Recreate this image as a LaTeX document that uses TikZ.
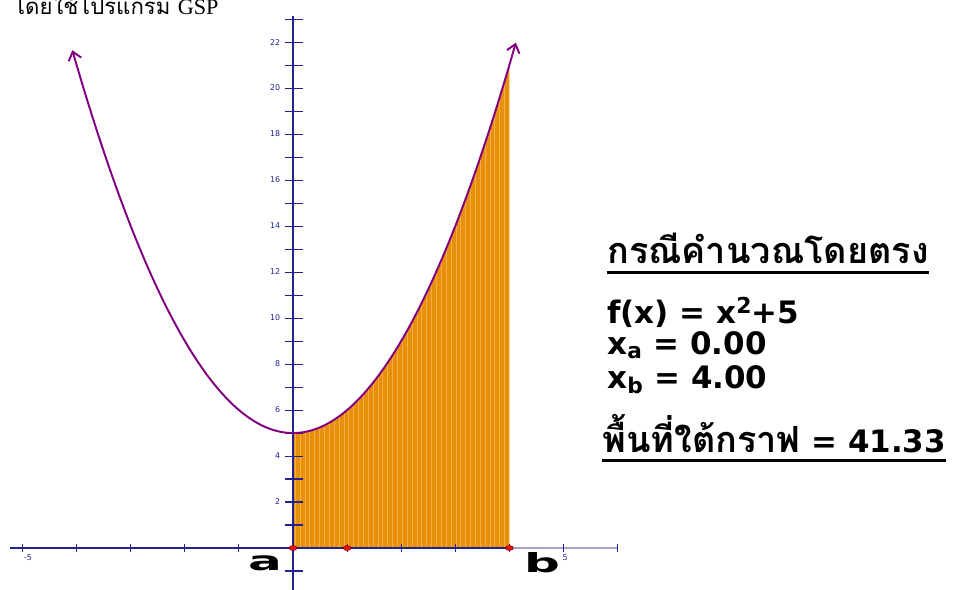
\documentclass[tikz,border=0pt]{standalone}
\usepackage{fontspec}
\setmainfont{DejaVu Sans}
\newfontfamily\thaifont[Script=Thai]{Loma}
\newfontfamily\gspserif{Liberation Serif}
\usepackage{xcolor}
\usepackage{tikz}
\usetikzlibrary{arrows.meta, calc, shapes.geometric}
\definecolor{gsporange}{HTML}{E8900C}
\definecolor{gspstripe}{HTML}{F4B048}
\definecolor{gsppurple}{HTML}{800080}
\definecolor{gspblue}{HTML}{23238F}
\definecolor{gsplight}{HTML}{A4A4D2}
\definecolor{gspred}{HTML}{F01010}
\tikzset{
  gspaxis/.style={gspblue, line width=0.6pt},
  gsptick/.style={font=\fontsize{4.5}{5}\selectfont, text=gspblue, inner sep=1pt},
  gspdot/.style={ellipse, fill=gspred, draw=gspred!50!black, line width=0.3pt,
    minimum width=0.16cm, minimum height=0.1cm, inner sep=0pt},
  bigletter/.style={font=\bfseries\fontsize{15}{18}\selectfont, xscale=1.9, inner sep=0pt, anchor=base},
  rhsline/.style={font=\bfseries\fontsize{17.6}{20}\selectfont, anchor=base west, inner sep=0pt},
}
\newcommand{\thaibig}{\thaifont\bfseries\fontsize{20.5}{24}\selectfont}

\begin{document}
\begin{tikzpicture}[x=0.02cm, y=-0.02cm]
\useasboundingbox (0,0) rectangle (956,589);
% graph of f, one unit = 54.1px across and 23px up
\begin{scope}[shift={(293,548)}, x=1.082cm, y=0.46cm]
\fill[gsporange] (0,0) -- plot[domain=0:4, samples=40] (\x,{(\x)^2+5}) -- (4,0) -- cycle;
\begin{scope}
\clip (0,0) -- plot[domain=0:4, samples=40] (\x,{(\x)^2+5}) -- (4,0) -- cycle;
\foreach \s in {0.04,0.13,...,3.96}
  \draw[gspstripe, line width=0.35pt] (\s,0) -- (\s,22);
\end{scope}
% axes
\draw[gspaxis] (-5.23,0) -- (4,0);
\draw[gsplight, line width=0.6pt] (4,0) -- (6,0);
\draw[gspaxis] (0,-1.9) -- (0,23.13);
\foreach \k in {-5,...,-1,1,2,...,6}
  \draw[gspaxis] (\k,-0.17) -- (\k,0.17);
\foreach \k in {-1,1,2,...,23}
  \draw[gspaxis] (-0.15,\k) -- (0.18,\k);
\foreach \k in {2,4,...,22}
  \node[gsptick, anchor=east] (yl\k) at (-0.2,\k) {\k};
\node[gsptick] (xlm) at (-4.9,-0.4) {-5};
\node[gsptick] (xlp) at (5.03,-0.4) {5};
% curve
\draw[gsppurple, line width=1.1pt, {Straight Barb[length=1.6mm, width=2.6mm]}-{Straight Barb[length=1.6mm, width=2.6mm]}]
  plot[domain=-4.08:4.12, samples=90, smooth] (\x,{(\x)^2+5});
\node[gspdot] (ptA) at (0,0) {};
\node[gspdot] (ptOne) at (1,0) {};
\node[gspdot] (ptB) at (4,0) {};
\end{scope}
\node[bigletter] (la) at (265,570) {a};
\node[bigletter] (lb) at (542,572) {b};
% heading cut at the top
\node[anchor=base west, inner sep=0pt, font=\fontsize{12.6}{14}\selectfont] (top) at (13,14)
  {\thaifont โดยใช้โปรแกรม \gspserif GSP};
% results on the right
\node[rhsline, font=\thaibig] (head) at (607,263) {กรณีคำนวณโดยตรง};
\draw[line width=1.7pt] ($(head.base west)+(0,9)$) -- ($(head.base east)+(0,9)$);
\node[rhsline] (fx) at (607,323) {f(x) = x\raisebox{0.3em}{\fontsize{12.5}{14}\selectfont 2}+5};
\node[rhsline] (xa) at (607,354) {x\textsubscript{a} = 0.00};
\node[rhsline] (xb) at (607,388) {x\textsubscript{b} = 4.00};
\node[rhsline] (area) at (602,452) {{\thaibig พื้นที่ใต้กราฟ} = 41.33};
\draw[line width=1.7pt] ($(area.base west)+(0,8)$) -- ($(area.base east)+(0,8)$);
\end{tikzpicture}
\end{document}
